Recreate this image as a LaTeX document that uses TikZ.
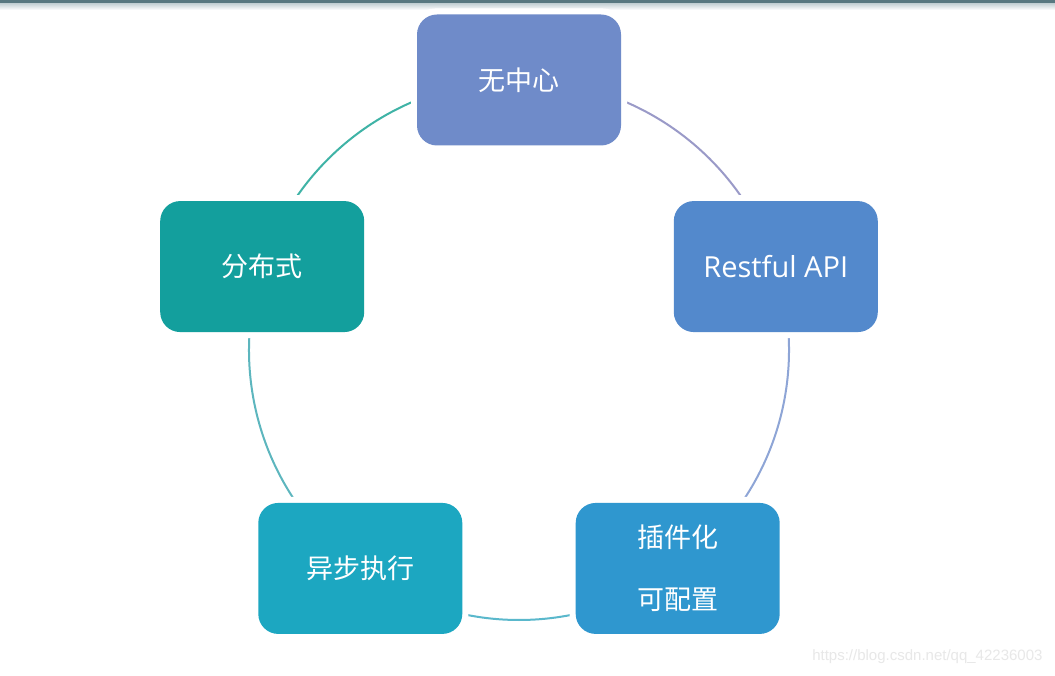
\documentclass[tikz,border=0pt]{standalone}
\usepackage{fontspec}
\setmainfont{Noto Sans CJK SC}
\newfontfamily\wmfont{Liberation Sans}
\newfontfamily\latinfont{Open Sans}
\usetikzlibrary{backgrounds,calc}
\definecolor{cTop}{HTML}{6F8BC9}
\definecolor{cRight}{HTML}{5389CC}
\definecolor{cBR}{HTML}{2F97CF}
\definecolor{cBL}{HTML}{1CA7C1}
\definecolor{cLeft}{HTML}{139F9D}
\definecolor{aTR}{HTML}{9A9AC8}
\definecolor{aRB}{HTML}{8EA5D6}
\definecolor{aBB}{HTML}{5AB8CC}
\definecolor{aBL}{HTML}{5DB6BE}
\definecolor{aLT}{HTML}{3FB3A6}
\definecolor{topbar}{HTML}{587880}
\definecolor{topfade}{HTML}{C9D5D8}
\definecolor{wm}{HTML}{E8E8E8}
\begin{document}
\begin{tikzpicture}[x=1pt,y=1pt,
  box/.style={rounded corners=20pt, minimum width=204pt, minimum height=131pt,
    text=white, font=\fontsize{27}{62}\selectfont, align=center, inner sep=0pt},
  halo/.style={rounded corners=24pt, minimum width=216pt, minimum height=143pt,
    fill=white, inner sep=0pt},
  ring/.style={line width=2pt}]
\useasboundingbox (0,0) rectangle (1055,-676);
\coordinate (c) at (519,-350);
\node[box, fill=cTop]   (top)   at ($(c)+(90:270)$)  {无中心};
\node[box, fill=cRight] (right) at ($(c)+(18:270)$)  {\latinfont\fontsize{29}{34}\selectfont Restful API};
\node[box, fill=cBR]    (br)    at ($(c)+(-54:270)$) {插件化\\可配置};
\node[box, fill=cBL]    (bl)    at ($(c)+(-126:270)$) {异步执行};
\node[box, fill=cLeft]  (left)  at ($(c)+(162:270)$) {分布式};
\node[font=\wmfont\fontsize{15}{18}\selectfont, text=wm, anchor=east] (wmark) at (1046,-657) {https://blog.csdn.net/qq\_42236003};
\begin{pgfonlayer}{background}
  \fill[white] (0,0) rectangle (1055,-676);
  \fill[topbar] (0,0) rectangle (1055,-4);
  \shade[top color=topfade, bottom color=white] (0,-4) rectangle (1055,-10);
  \draw[ring, aTR] (top.center) arc[start angle=90, end angle=18, radius=270];
  \draw[ring, aRB] (right.center) arc[start angle=18, end angle=-54, radius=270];
  \draw[ring, aBB] (br.center) arc[start angle=-54, end angle=-126, radius=270];
  \draw[ring, aBL] (bl.center) arc[start angle=-126, end angle=-198, radius=270];
  \draw[ring, aLT] (left.center) arc[start angle=162, end angle=90, radius=270];
  \foreach \n in {top,right,br,bl,left} \node[halo] at (\n) {};
\end{pgfonlayer}
\end{tikzpicture}
\end{document}
